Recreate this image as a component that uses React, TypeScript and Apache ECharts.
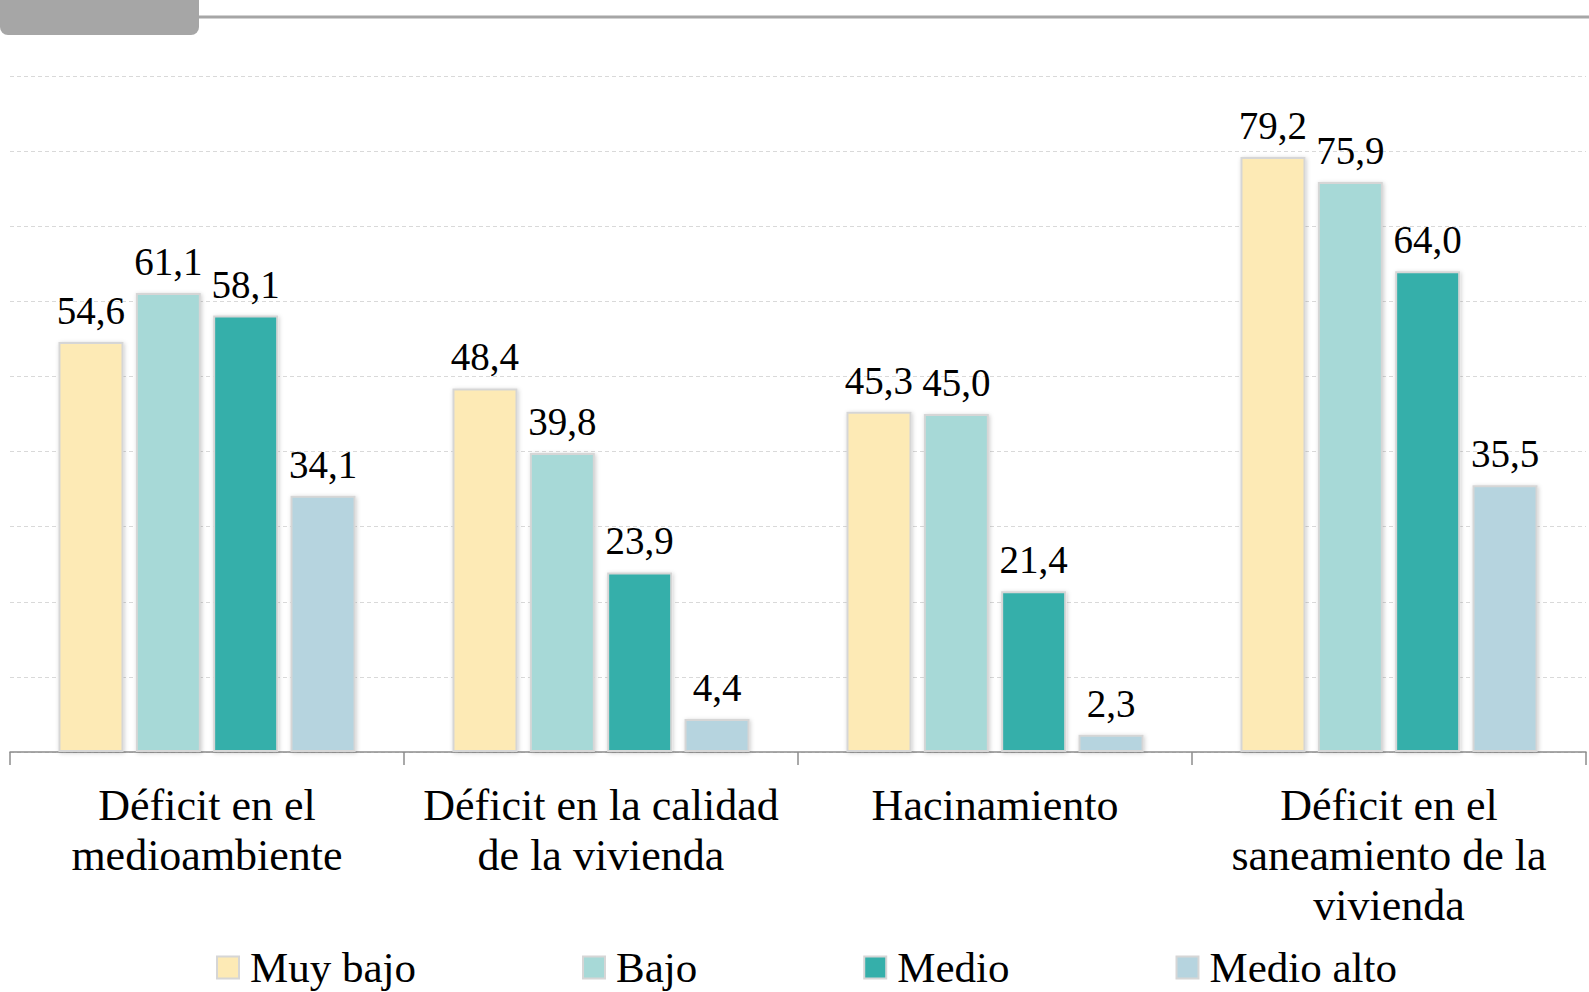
import React, { useEffect, useRef } from "react";
import * as echarts from "echarts";

const categories = [
  "Déficit en el\nmedioambiente",
  "Déficit en la calidad\nde la vivienda",
  "Hacinamiento",
  "Déficit en el\nsaneamiento de la\nvivienda",
];
const seriesNames = ["Muy bajo", "Bajo", "Medio", "Medio alto"];
const muyBajo = [54.6, 48.4, 45.3, 79.2];
const bajo = [61.1, 39.8, 45.0, 75.9];
const medio = [58.1, 23.9, 21.4, 64.0];
const medioAlto = [34.1, 4.4, 2.3, 35.5];
const colors = ["#FDEAB5", "#A7D9D7", "#35AFAA", "#B6D4DF"];

const FONT = "'Liberation Serif', 'Times New Roman', serif";

export default function App() {
  const ref = useRef<HTMLDivElement>(null);
  useEffect(() => {
    if (!ref.current) return;
    const chart = echarts.init(ref.current, undefined, { renderer: "svg" });
    const values = [muyBajo, bajo, medio, medioAlto];
    chart.setOption({
      animation: false,
      textStyle: { fontFamily: FONT },
      graphic: [
        {
          type: "rect",
          shape: { x: 0, y: -8, width: 199, height: 43, r: 8 },
          style: { fill: "#A6A6A6" },
        },
        {
          type: "line",
          shape: { x1: 199, y1: 17, x2: 1589, y2: 17 },
          style: { stroke: "#A6A6A6", lineWidth: 3 },
        },
      ],
      grid: { left: 10, right: 3, top: 76, bottom: 240, containLabel: false },
      legend: {
        left: 211,
        top: 941,
        itemWidth: 22,
        itemHeight: 22,
        itemGap: 166,
        icon: "rect",
        textStyle: {
          fontFamily: FONT,
          fontSize: 43,
          color: "#000",
          padding: [0, 0, 0, 6],
        },
        data: seriesNames,
      },
      xAxis: {
        type: "category",
        data: categories,
        axisLine: { lineStyle: { color: "#8C8C8C", width: 1.5 } },
        axisTick: { show: true, length: 13, lineStyle: { color: "#8C8C8C", width: 1.5 } },
        axisLabel: {
          fontFamily: FONT,
          fontSize: 44,
          color: "#000",
          lineHeight: 50,
          margin: 28,
          interval: 0,
        },
      },
      yAxis: {
        type: "value",
        min: 0,
        max: 90,
        interval: 10,
        axisLabel: { show: false },
        axisLine: { show: false },
        axisTick: { show: false },
        splitLine: { lineStyle: { color: "#D9D9D9", type: [4, 3], width: 1 } },
      },
      series: seriesNames.map((name, i) => ({
        name,
        type: "bar",
        data: values[i],
        barWidth: 65,
        barGap: "19%",
        itemStyle: {
          color: colors[i],
          borderColor: "#D6D6D6",
          borderWidth: 2,
          shadowBlur: 4,
          shadowColor: "rgba(0,0,0,0.2)",
          shadowOffsetX: 1,
          shadowOffsetY: 1,
        },
        label: {
          show: true,
          position: "top",
          distance: 12,
          fontFamily: FONT,
          fontSize: 39,
          color: "#000",
          formatter: (p: any) => Number(p.value).toFixed(1).replace(".", ","),
        },
      })),
    });
    return () => chart.dispose();
  }, []);
  return (
    <div
      ref={ref}
      style={{ position: "fixed", left: 0, top: 0, width: 1589, height: 992, background: "#fff" }}
    />
  );
}
